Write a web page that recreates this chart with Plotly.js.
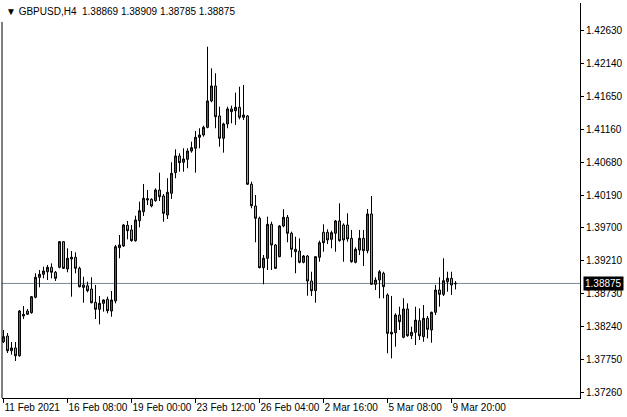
<!DOCTYPE html>
<html>
<head>
<meta charset="utf-8">
<script src="https://cdn.plot.ly/plotly-3.0.1.min.js"></script>
<style>html,body{margin:0;padding:0;background:#fff;}#chart{width:627px;height:417px;}</style>
</head>
<body>
<div id="chart"></div>
<script>
// GBPUSD H4 candles
const opens = [1.38008,1.38093,1.37874,1.37915,1.37800,1.38391,1.38465,1.38440,1.38669,1.38966,
1.39011,1.39049,1.39115,1.39041,1.39115,1.39496,1.39090,1.39238,1.39264,1.39100,
1.38852,1.38841,1.38792,1.38594,1.38490,1.38579,1.38639,1.38465,1.38614,1.39406,
1.39432,1.39740,1.39670,1.39511,1.39808,1.39942,1.40116,1.40126,1.40106,1.40265,
1.40176,1.39893,1.40216,1.40522,1.40771,1.40677,1.40721,1.40845,1.40885,1.41049,
1.41083,1.41197,1.41589,1.41812,1.41366,1.41034,1.41247,1.41470,1.41444,1.41495,
1.41346,1.41366,1.40350,1.40027,1.39844,1.39109,1.39249,1.39755,1.39447,1.39273,
1.39729,1.39858,1.39621,1.39383,1.39357,1.39189,1.39283,1.38911,1.38767,1.39264,
1.39636,1.39636,1.39531,1.39621,1.39804,1.39744,1.39744,1.39546,1.39189,1.39371,
1.39546,1.39362,1.39908,1.38862,1.38926,1.39026,1.38703,1.38123,1.38142,1.38405,
1.38074,1.38495,1.38097,1.38148,1.38321,1.38083,1.38356,1.38182,1.38446,1.38777,
1.38713,1.38901,1.38951,1.38869];
const highs = [1.38182,1.38138,1.38004,1.38004,1.38480,1.38539,1.38495,1.38688,1.39026,1.39075,
1.39124,1.39149,1.39174,1.39060,1.39506,1.39506,1.39398,1.39357,1.39338,1.39124,
1.38975,1.38901,1.38966,1.38852,1.38688,1.38639,1.38678,1.38762,1.39447,1.39595,
1.39759,1.39804,1.39744,1.39882,1.40091,1.40354,1.40265,1.40141,1.40290,1.40522,
1.40205,1.40439,1.40677,1.40870,1.40811,1.40885,1.40885,1.40983,1.41142,1.41183,
1.41221,1.42396,1.42075,1.42001,1.41504,1.41266,1.41504,1.41519,1.41712,1.41801,
1.41827,1.41380,1.40388,1.40190,1.39868,1.39298,1.39868,1.39793,1.39462,1.39744,
1.39978,1.39893,1.39645,1.39570,1.39546,1.39298,1.39298,1.39049,1.39283,1.39511,
1.39755,1.39680,1.39659,1.39819,1.40067,1.39769,1.39918,1.39670,1.39412,1.39670,
1.39670,1.39982,1.40176,1.38966,1.39075,1.39049,1.38728,1.38688,1.38431,1.38529,
1.38654,1.38579,1.38231,1.38529,1.38505,1.38554,1.38391,1.38455,1.38852,1.38966,
1.39249,1.39049,1.39049,1.38909];
const lows = [1.37989,1.37840,1.37815,1.37721,1.37785,1.38346,1.38405,1.38425,1.38654,1.38817,
1.38951,1.38926,1.38951,1.38911,1.39100,1.39090,1.39041,1.38678,1.39026,1.38817,
1.38588,1.38743,1.38579,1.38346,1.38267,1.38455,1.38431,1.38380,1.38579,1.39249,
1.39417,1.39531,1.39496,1.39496,1.39710,1.39878,1.40042,1.40007,1.40091,1.40101,
1.39793,1.39833,1.40131,1.40439,1.40537,1.40537,1.40588,1.40820,1.40522,1.40885,
1.41058,1.41183,1.41569,1.41183,1.40909,1.40820,1.41183,1.41257,1.41232,1.41316,
1.41306,1.40339,1.39993,1.39487,1.39100,1.38862,1.39075,1.39075,1.39090,1.39264,
1.39710,1.39487,1.39264,1.39026,1.39174,1.39174,1.38692,1.38688,1.38588,1.39198,
1.39347,1.39462,1.39398,1.39347,1.39496,1.39198,1.39496,1.39183,1.39174,1.39298,
1.39134,1.39323,1.38852,1.38777,1.38654,1.38654,1.37836,1.37761,1.37934,1.38182,
1.38059,1.38083,1.38048,1.37959,1.38034,1.38008,1.38059,1.37993,1.38405,1.38529,
1.38688,1.38752,1.38703,1.38785];
const closes = [1.38083,1.37874,1.37915,1.37800,1.38465,1.38416,1.38416,1.38678,1.38966,1.39011,
1.39060,1.39115,1.39041,1.38951,1.39496,1.39100,1.39249,1.39264,1.39100,1.38826,
1.38817,1.38767,1.38588,1.38490,1.38579,1.38629,1.38469,1.38629,1.39421,1.39447,
1.39744,1.39659,1.39511,1.39819,1.39957,1.40141,1.40135,1.40027,1.40265,1.40165,
1.39918,1.40231,1.40513,1.40771,1.40671,1.40726,1.40845,1.40894,1.41049,1.41083,
1.41197,1.41589,1.41812,1.41355,1.41034,1.41247,1.41470,1.41430,1.41495,1.41346,
1.41380,1.40350,1.40031,1.39844,1.39109,1.39249,1.39755,1.39447,1.39100,1.39729,
1.39858,1.39621,1.39383,1.39347,1.39189,1.39283,1.38911,1.38767,1.39273,1.39481,
1.39481,1.39521,1.39630,1.39804,1.39511,1.39521,1.39536,1.39198,1.39383,1.39546,
1.39362,1.39908,1.38862,1.38926,1.39049,1.38826,1.38133,1.38148,1.38405,1.38306,
1.38495,1.38097,1.38148,1.38331,1.38097,1.38356,1.38193,1.38446,1.38777,1.38713,
1.38916,1.38951,1.38852,1.38875];

const symbol = "GBPUSD,H4";
const lastPrice = 1.38875;
const priceTicks = [1.37260,1.37750,1.38240,1.38730,1.39210,1.39700,1.40190,1.40680,1.41160,1.41650,1.42140,1.42630];
const timeLabels = ["11 Feb 2021","16 Feb 08:00","19 Feb 00:00","23 Feb 12:00","26 Feb 04:00","2 Mar 16:00","5 Mar 08:00","9 Mar 20:00"];
const labelEvery = 16; // bars between time labels

const n = opens.length;
const bars = opens.map((_, i) => i);
const timeTickVals = timeLabels.map((_, k) => k * labelEvery);

const FONT = "Liberation Sans, Arial, sans-serif";
const bullFill = "#ff1a1a";
const bearFill = "#33e39c";

const trace = {
  type: "candlestick",
  x: bars, open: opens, high: highs, low: lows, close: closes,
  increasing: {line: {color: "#000000", width: 1}, fillcolor: bullFill},
  decreasing: {line: {color: "#000000", width: 1}, fillcolor: bearFill},
  whiskerwidth: 0,
  hoverinfo: "skip"
};

const last = n - 1;
const hdr = "\u25BC " + symbol + "\u00a0\u00a0" +
  [opens[last], highs[last], lows[last], closes[last]].map(v => v.toFixed(5)).join(" ");

const layout = {
  width: 627, height: 417,
  margin: {l: 2, r: 47, t: 3, b: 19, pad: 0},
  paper_bgcolor: "#ffffff", plot_bgcolor: "#ffffff",
  showlegend: false,
  font: {family: FONT, size: 10, color: "#000000"},
  xaxis: {
    range: [-0.375, 144.125], showgrid: false, zeroline: false,
    showline: true, linecolor: "#000000", linewidth: 1,
    ticks: "outside", ticklen: 4, tickcolor: "#000000", tickwidth: 1,
    tickmode: "array", tickvals: timeTickVals, ticktext: timeLabels,
    ticklabelposition: "outside right", tickangle: 0, ticklabelstandoff: 0,
    tickfont: {family: FONT, size: 10, color: "#000000"},
    rangeslider: {visible: false}, fixedrange: true
  },
  yaxis: {
    side: "right", range: [1.37171, 1.43046], showgrid: false, zeroline: false,
    showline: true, linecolor: "#000000", linewidth: 1,
    ticks: "outside", ticklen: 3, tickcolor: "#000000",
    tickmode: "array", tickvals: priceTicks, ticktext: priceTicks.map(v => v.toFixed(5)),
    tickfont: {family: FONT, size: 10, color: "#000000"},
    fixedrange: true
  },
  shapes: [
    {type: "line", xref: "paper", yref: "y", x0: 0, x1: 1, y0: lastPrice, y1: lastPrice,
     line: {color: "#778899", width: 1}, layer: "below"},
    {type: "line", xref: "paper", yref: "paper", x0: 0, x1: 0, y0: 0, y1: 0.952,
     line: {color: "#000000", width: 1}}
  ],
  annotations: [
    {xref: "paper", yref: "paper", x: 0, y: 1, xanchor: "left", yanchor: "top",
     xshift: 2, yshift: -1, showarrow: false, text: hdr,
     font: {family: FONT, size: 10, color: "#000000"}},
    {xref: "paper", yref: "y", x: 1, y: lastPrice, xanchor: "left", yanchor: "middle",
     xshift: 3, showarrow: false, text: lastPrice.toFixed(5), bgcolor: "#000000",
     borderpad: 1, font: {family: FONT, size: 10, color: "#ffffff"}}
  ]
};

Plotly.newPlot("chart", [trace], layout, {displayModeBar: false, staticPlot: true});
</script>
</body>
</html>
